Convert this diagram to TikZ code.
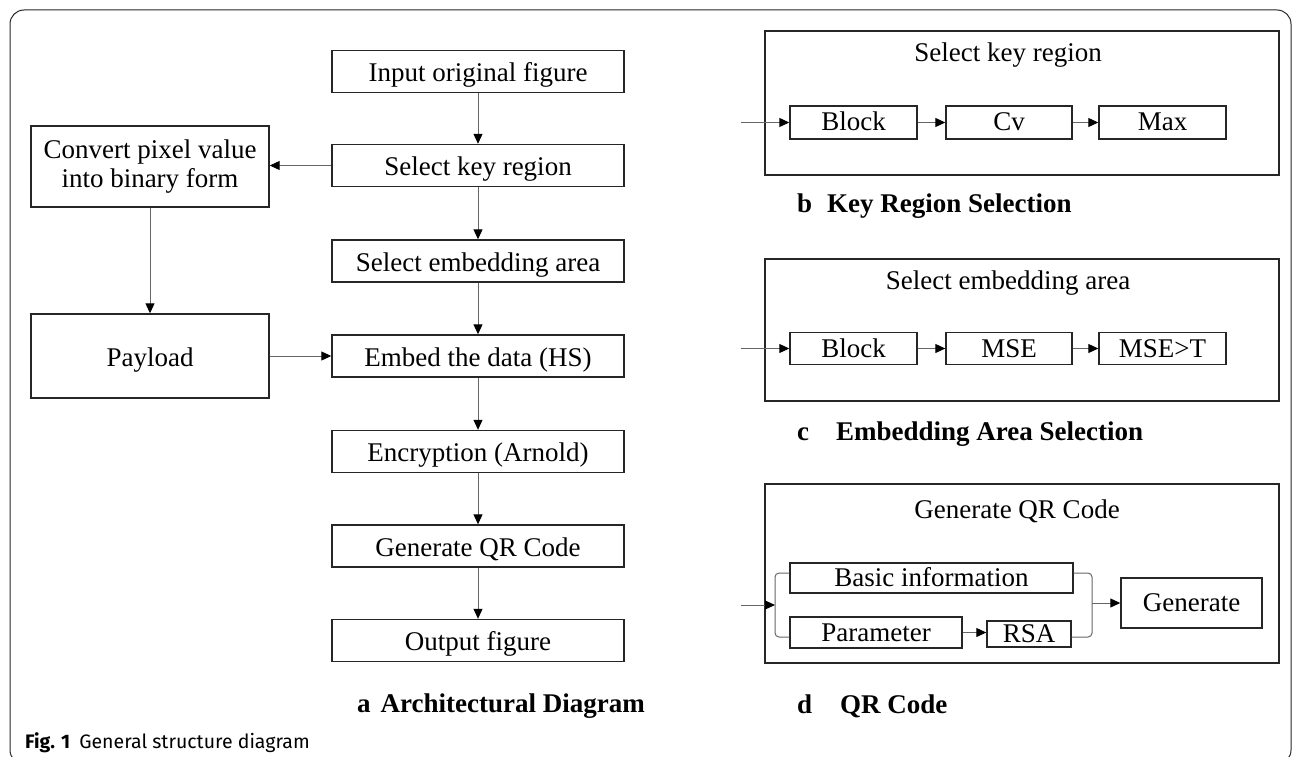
\documentclass[tikz,border=0pt]{standalone}
\usepackage{fontspec}
\setmainfont{Liberation Serif}
\newfontfamily\capfont{Fira Sans}
\usetikzlibrary{arrows.meta}
\begin{document}
\begin{tikzpicture}[x=1pt,y=-1pt,
  box/.style={draw=black!85, line width=1.4pt, inner sep=0pt, text height=20pt, text depth=0pt, font=\fontsize{27}{29}\selectfont},
  sbox/.style={box, text height=17pt},
  ttl/.style={inner sep=0pt, font=\fontsize{27}{29}\selectfont},
  lbl/.style={inner sep=0pt, anchor=west, font=\fontsize{27}{29}\selectfont\bfseries},
  link/.style={draw=black!60, line width=1pt},
  conn/.style={link, -{Triangle[length=10pt,width=9pt,color=black]}},
]
\useasboundingbox (0,0) rectangle (1292,757);
\begin{scope}
\clip (0,0) rectangle (1292,757);
\draw[black!85, line width=1pt, rounded corners=14] (10,10) rectangle (1291,764);
\end{scope}

% ---- a: main column
\node[box, minimum width=292, minimum height=42] (in) at (478,71.5) {Input original figure};
\node[box, minimum width=292, minimum height=42] (sk) at (478,165.5) {Select key region};
\node[box, minimum width=292, minimum height=42] (se) at (478,261) {Select embedding area};
\node[box, minimum width=292, minimum height=42] (ed) at (478,356) {Embed the data (HS)};
\node[box, minimum width=292, minimum height=42] (en) at (478,451.5) {Encryption (Arnold)};
\node[box, minimum width=292, minimum height=42] (gq) at (478,546) {Generate QR Code};
\node[box, minimum width=292, minimum height=42] (of) at (478,640.5) {Output figure};
\node[box, minimum width=238, minimum height=81, align=center, text height=, text depth=] (cv) at (150,166.5) {Convert pixel value\\into binary form};
\node[box, minimum width=238, minimum height=84] (pl) at (150,356) {Payload};

\draw[conn] (in) -- (sk);
\draw[conn] (sk) -- (se);
\draw[conn] (se) -- (ed);
\draw[conn] (ed) -- (en);
\draw[conn] (en) -- (gq);
\draw[conn] (gq) -- (of);
\draw[conn] (sk.west) -- (sk.west -| cv.east);
\draw[conn] (cv) -- (pl);
\draw[conn] (pl) -- (ed);

\node[lbl] (la) at (357,706) {a\hspace{10pt}Architectural Diagram};

% ---- b
\node[box, minimum width=514, minimum height=144] (pb) at (1022,103) {};
\node[ttl] (tb) at (1008,55) {Select key region};
\node[sbox, minimum width=127, minimum height=33] (b1) at (853.5,122.5) {Block};
\node[sbox, minimum width=126, minimum height=33] (b2) at (1009,122.5) {Cv};
\node[sbox, minimum width=127, minimum height=33] (b3) at (1162.5,122.5) {Max};
\coordinate (eb) at (741,122.5);
\draw[conn] (eb) -- (b1);
\draw[conn] (b1) -- (b2);
\draw[conn] (b2) -- (b3);
\node[lbl] (lb) at (797,206) {b\hspace{15pt}Key Region Selection};

% ---- c
\node[box, minimum width=514, minimum height=142] (pc) at (1022,330) {};
\node[ttl] (tc) at (1008,283) {Select embedding area};
\node[sbox, minimum width=127, minimum height=32] (c1) at (853.5,348.5) {Block};
\node[sbox, minimum width=126, minimum height=32] (c2) at (1009,348.5) {MSE};
\node[sbox, minimum width=127, minimum height=32] (c3) at (1162.5,348.5) {MSE>T};
\coordinate (ec) at (741,348.5);
\draw[conn] (ec) -- (c1);
\draw[conn] (c1) -- (c2);
\draw[conn] (c2) -- (c3);
\node[lbl] (lc) at (797,434) {c\hspace{27pt}Embedding Area Selection};

% ---- d
\node[box, minimum width=514, minimum height=179] (pd) at (1022,573.5) {};
\node[ttl] (td) at (1017,511) {Generate QR Code};
\node[sbox, minimum width=283, minimum height=30] (d1) at (931.5,578) {Basic information};
\node[sbox, minimum width=172, minimum height=31] (d2) at (876,632.5) {Parameter};
\node[sbox, minimum width=84, minimum height=26] (d3) at (1029,634) {RSA};
\node[sbox, minimum width=141, minimum height=50] (d4) at (1191.5,603) {Generate};
\coordinate (brL) at (775,605);
\coordinate (brR) at (1092,603);
\coordinate (ed0) at (741,605);
\draw[link, rounded corners=4] ([yshift=5pt]d1.west) -| (brL) |- ([yshift=-4.5pt]d2.west);
\draw[link, rounded corners=4] ([yshift=5pt]d1.east) -| (brR) |- ([yshift=-3pt]d3.east);
\draw[conn] (ed0) -- (brL);
\draw[conn] (brR) -- (d4);
\draw[conn] (d2.east) -- (d2.east -| d3.west);
\node[lbl] (ld) at (797,706) {d\hspace{28pt}QR Code};

% ---- caption
\node[inner sep=0pt, anchor=west, font=\capfont\fontsize{19.5}{22}\selectfont] (cap) at (25,743) {\textbf{Fig. 1}\hspace{9pt}General structure diagram};
\end{tikzpicture}
\end{document}
